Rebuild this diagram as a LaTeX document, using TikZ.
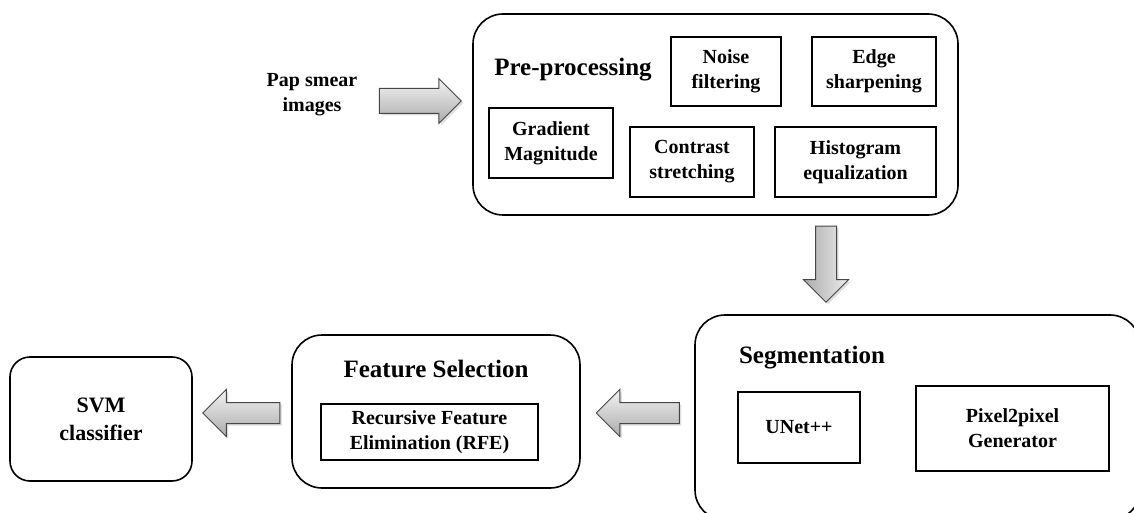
\documentclass[tikz,border=0pt]{standalone}
\usepackage{fontspec}
\setmainfont{Liberation Serif}
\usetikzlibrary{shapes.arrows,shadows}

\begin{document}
\begin{tikzpicture}
  [x=0.5pt, y=-0.5pt,
   every node/.style={font=\bfseries\fontsize{10}{12.5}\selectfont, align=center, inner sep=1pt},
   stagebox/.style={draw, rounded corners=15pt, line width=0.8pt},
   stepbox/.style={draw, rectangle, line width=0.6pt, minimum height=35pt},
   stagetitle/.style={font=\bfseries\fontsize{12.5}{15}\selectfont},
   blockarrow/.style={single arrow, draw=gray!55!black, line width=0.5pt,
     top color=gray!10, bottom color=gray!65, single arrow head extend=6pt,
     inner xsep=0pt, inner ysep=5pt,
     drop shadow={opacity=0.25, shadow xshift=1pt, shadow yshift=-1pt}}]
  \clip (0,0) rectangle (1134,513);
  \useasboundingbox (0,0) rectangle (1134,513);

  % input
  \node (input) at (312,95) {Pap smear\\images};
  \node[blockarrow, minimum height=41pt, inner ysep=6pt, single arrow head extend=5pt] (arrIn) at (414,101) {};

  % pre-processing
  \node[stagebox, minimum width=242.5pt, minimum height=100.5pt] (prep) at (715.5,114.5) {};
  \node[stagetitle] (prepTitle) at (573,70) {Pre-processing};
  \node[stepbox, minimum width=55pt, minimum height=34.5pt] (noise) at (726,71.5) {Noise\\filtering};
  \node[stepbox, minimum width=62pt, minimum height=34.5pt] (edge) at (874,71.5) {Edge\\sharpening};
  \node[stepbox, minimum width=62pt] (grad) at (551,143) {Gradient\\Magnitude};
  \node[stepbox, minimum width=62pt] (contrast) at (692,162) {Contrast\\stretching};
  \node[stepbox, minimum width=80.5pt] (hist) at (855.5,162) {Histogram\\equalization};

  \node[blockarrow, minimum height=38pt, inner xsep=5pt, inner ysep=0pt, shape border rotate=270,
    left color=gray!65, right color=gray!15] (arrDown) at (826,259) {};

  % segmentation
  \node[stagebox, minimum width=222.5pt, minimum height=102.5pt] (seg) at (917.5,417.5) {};
  \node[stagetitle] (segTitle) at (812,358) {Segmentation};
  \node[stepbox, minimum width=61pt, minimum height=35.5pt] (unet) at (799,427.5) {UNet++};
  \node[stepbox, minimum width=96.5pt, minimum height=42.5pt] (pix) at (1012.5,428.5) {Pixel2pixel\\Generator};

  \node[blockarrow, minimum height=41.5pt, single arrow head extend=6.5pt, shape border rotate=180] (arrSeg) at (643,413) {};

  % feature selection
  \node[stagebox, minimum width=144pt, minimum height=76.5pt] (feat) at (436,411.5) {};
  \node[stagetitle] (featTitle) at (436,369) {Feature Selection};
  \node[stepbox, minimum width=108.5pt, minimum height=28pt] (rfe) at (429.5,432) {Recursive Feature\\Elimination (RFE)};

  \node[blockarrow, minimum height=38.5pt, single arrow head extend=6.5pt, shape border rotate=180] (arrFeat) at (246.5,413) {};

  % classifier
  \node[stagebox, rounded corners=10pt, minimum width=91pt, minimum height=62pt,
    font=\bfseries\fontsize{11}{14}\selectfont] (svm) at (101,419) {SVM\\classifier};
\end{tikzpicture}
\end{document}
